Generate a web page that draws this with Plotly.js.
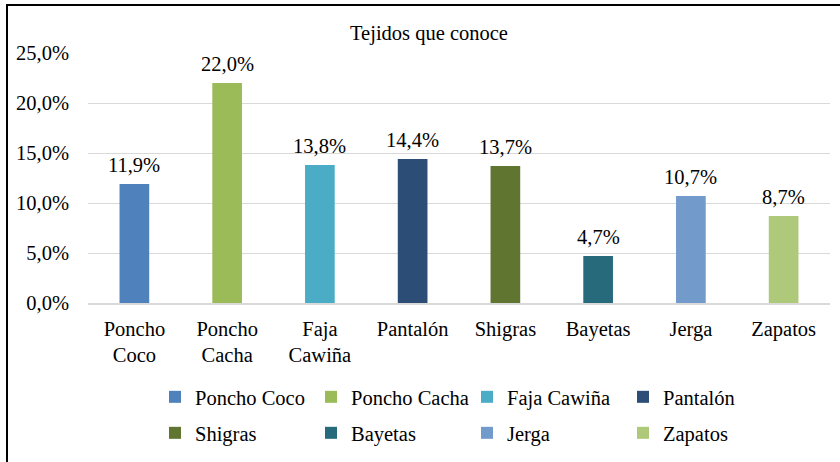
<!DOCTYPE html>
<html>
<head>
<meta charset="utf-8">
<script src="https://cdn.plot.ly/plotly-3.0.1.min.js"></script>
<style>
  html, body { margin: 0; padding: 0; background: #fff; overflow: hidden; }
  #wrap { position: relative; width: 840px; height: 462px; }
  #chart { position: absolute; left: 0; top: 0; width: 840px; height: 462px; }
  #frame { position: absolute; left: 6px; top: 4px; width: 860px; height: 500px;
           border: 2px solid #000; box-sizing: border-box; pointer-events: none; }
</style>
</head>
<body>
<div id="wrap">
  <div id="chart"></div>
  <div id="frame"></div>
</div>
<script>
const categories = ["Poncho Coco", "Poncho Cacha", "Faja Cawiña", "Pantalón", "Shigras", "Bayetas", "Jerga", "Zapatos"];
const tickLabels = ["Poncho<br>Coco", "Poncho<br>Cacha", "Faja<br>Cawiña", "Pantalón", "Shigras", "Bayetas", "Jerga", "Zapatos"];
const values = [0.119, 0.220, 0.138, 0.144, 0.137, 0.047, 0.107, 0.087];
const colors = ["#4f81bd", "#9bbb59", "#4bacc6", "#2c4d75", "#5f7530", "#276a7c", "#729aca", "#afc97a"];

const FONT = "Liberation Serif, Times New Roman, serif";
const FS = 20.5;

const traces = categories.map((c, i) => ({
  type: "bar",
  name: c,
  x: [tickLabels[i]],
  y: [values[i]],
  width: 0.32,
  marker: { color: colors[i] },
  legend: i < 4 ? "legend" : "legend2",
  hoverinfo: "skip"
}));

const annotations = categories.map((c, i) => ({
  x: tickLabels[i], y: values[i],
  xref: "x", yref: "y",
  text: (values[i] * 100).toFixed(1).replace(".", ",") + "%",
  showarrow: false,
  yanchor: "bottom", yshift: 6,
  font: { family: FONT, size: FS, color: "#000" }
}));

const legendCommon = {
  orientation: "h",
  xref: "container", yref: "container",
  xanchor: "left", yanchor: "middle",
  font: { family: FONT, size: FS, color: "#000" },
  entrywidth: 111, entrywidthmode: "pixels",
  itemwidth: 30,
  bgcolor: "rgba(0,0,0,0)",
  traceorder: "normal"
};

const layout = {
  width: 840, height: 462,
  margin: { l: 88, r: 10, t: 53, b: 159 },
  paper_bgcolor: "#fff", plot_bgcolor: "#fff",
  separators: ",.",
  barmode: "overlay",
  showlegend: true,
  annotations: annotations,
  title: {
    text: "Tejidos que conoce",
    font: { family: FONT, size: FS, color: "#000" },
    xref: "container", yref: "container",
    x: 429 / 840, xanchor: "center",
    y: 1 - 33 / 462, yanchor: "middle"
  },
  xaxis: {
    type: "category",
    categoryorder: "array", categoryarray: tickLabels,
    showgrid: false, showline: true, linecolor: "#d9d9d9", linewidth: 2,
    ticks: "", zeroline: false,
    tickfont: { family: FONT, size: FS, color: "#000" },
    ticklabelstandoff: 6
  },
  yaxis: {
    range: [0, 0.25], dtick: 0.05, tickformat: ".1%",
    showgrid: true, gridcolor: "#d9d9d9", gridwidth: 1,
    zeroline: false, showline: false, ticks: "",
    tickfont: { family: FONT, size: FS, color: "#000" },
    ticklabelstandoff: 18
  },
  legend: Object.assign({}, legendCommon, { x: 155 / 840, y: 1 - 397 / 462 }),
  legend2: Object.assign({}, legendCommon, { x: 155 / 840, y: 1 - 433 / 462 })
};

Plotly.newPlot("chart", traces, layout, { displayModeBar: false, staticPlot: true });
</script>
</body>
</html>
